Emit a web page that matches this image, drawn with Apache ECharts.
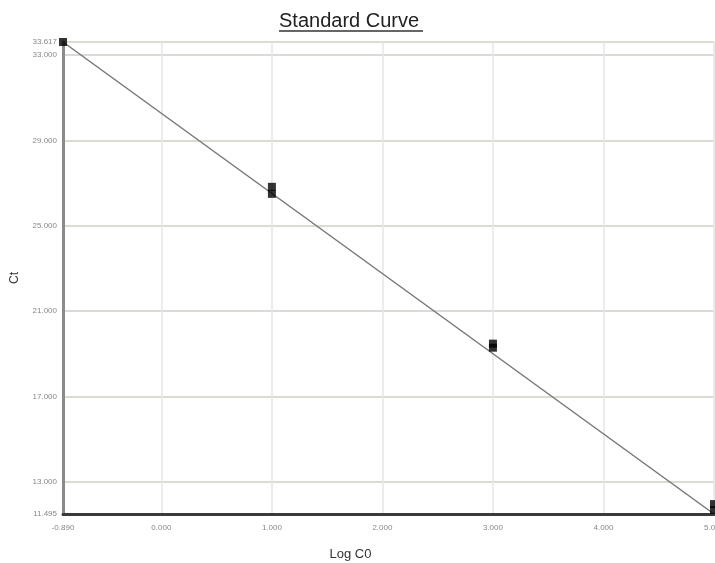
<!DOCTYPE html>
<html>
<head>
<meta charset="utf-8">
<script src="https://cdn.jsdelivr.net/npm/echarts@6/dist/echarts.min.js"></script>
<style>html,body{margin:0;padding:0;background:#fff}#c{width:715px;height:563px}</style>
</head>
<body>
<div id="c"></div>
<script>
// data
const xTicks = [-0.89, 0, 1, 2, 3, 4, 5];
const yTicks = [11.495, 13, 17, 21, 25, 29, 33, 33.617];
const logC0 = [-0.89, 1, 1, 3, 3, 5, 5];
const ctValues = [33.617, 26.83, 26.50, 19.48, 19.29, 11.96, 11.68];
const fitX = [-0.89, 5];
const fitY = [33.617, 11.495];

const chart = echarts.init(document.getElementById('c'));
chart.setOption({
  animation: false,
  backgroundColor: '#ffffff',
  title: {
    text: 'Standard Curve',
    left: 279,
    top: 11,
    padding: 0,
    textStyle: { fontFamily: 'Liberation Sans', fontSize: 20, fontWeight: 'normal', color: '#222' }
  },
  graphic: [{
    type: 'rect',
    shape: { x: 279, y: 30, width: 144, height: 2 },
    style: { fill: '#666' },
    silent: true
  }],
  grid: { left: 63, right: 1, top: 42, bottom: 49, containLabel: false, outerBoundsMode: 'none' },
  xAxis: {
    type: 'value',
    min: xTicks[0],
    max: xTicks[xTicks.length - 1],
    name: 'Log C0',
    nameLocation: 'middle',
    nameGap: 34,
    nameTextStyle: { fontFamily: 'Liberation Sans', fontSize: 13, color: '#333', padding: [0, 76, 0, 0] },
    axisLine: { onZero: false, lineStyle: { color: '#3a3a3a', width: 3 } },
    axisTick: { show: false, customValues: xTicks },
    axisLabel: {
      customValues: xTicks,
      formatter: v => v.toFixed(3),
      fontSize: 8, color: '#888', fontFamily: 'Liberation Sans', margin: 10
    },
    splitLine: { show: true, lineStyle: { color: '#e6e6e6', width: 1.5 } }
  },
  yAxis: {
    type: 'value',
    min: yTicks[0],
    max: yTicks[yTicks.length - 1],
    name: 'Ct',
    nameLocation: 'middle',
    nameGap: 42,
    nameTextStyle: { fontFamily: 'Liberation Sans', fontSize: 12, color: '#333' },
    axisLine: { show: true, onZero: false, lineStyle: { color: '#8a8a8a', width: 3 } },
    axisTick: { show: false, customValues: yTicks },
    axisLabel: {
      customValues: yTicks,
      formatter: v => v.toFixed(3),
      fontSize: 8, color: '#888', fontFamily: 'Liberation Sans', margin: 6
    },
    splitLine: { show: true, lineStyle: { color: '#dcdbd2', width: 2 } }
  },
  series: [
    {
      type: 'line',
      data: fitX.map((x, i) => [x, fitY[i]]),
      showSymbol: false,
      lineStyle: { color: '#777', width: 1.5 },
      z: 3
    },
    {
      type: 'scatter',
      data: logC0.map((x, i) => [x, ctValues[i]]),
      symbol: 'rect',
      symbolSize: 8,
      itemStyle: { color: '#000' },
      clip: false,
      z: 4
    }
  ]
});
</script>
</body>
</html>
